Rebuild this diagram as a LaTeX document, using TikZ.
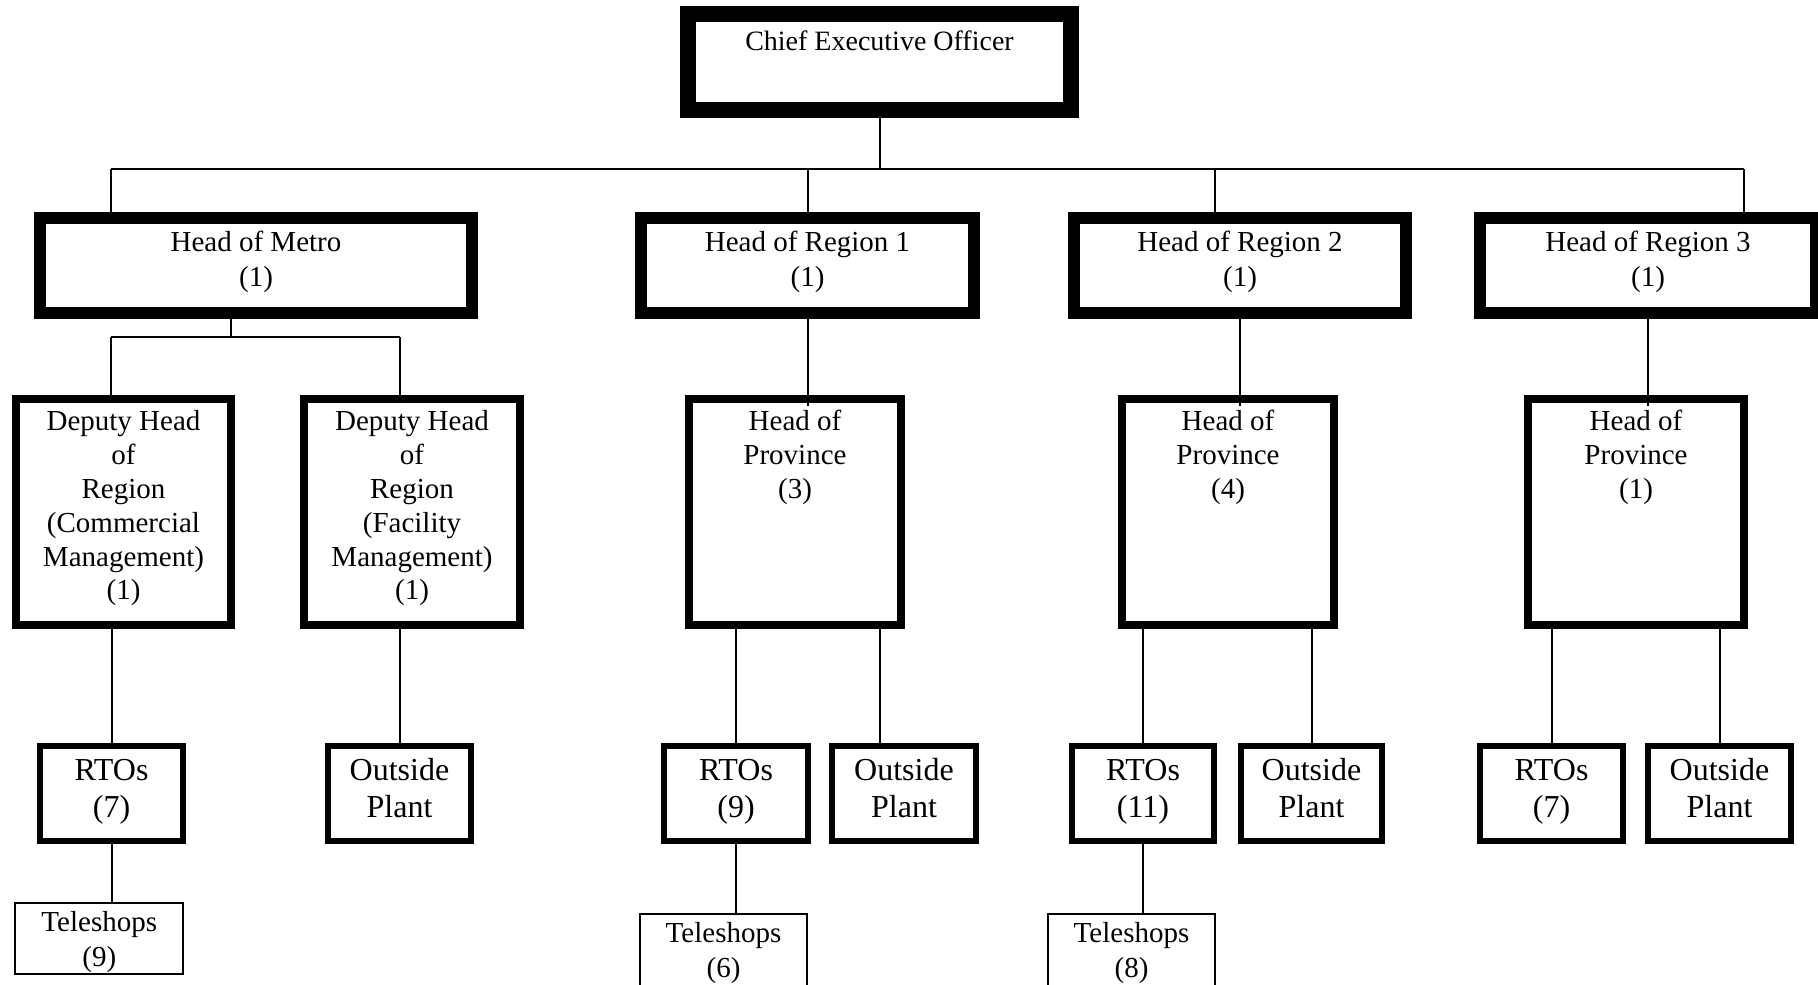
\documentclass[tikz,border=0pt]{standalone}
\usepackage{fontspec}
\setmainfont{Liberation Serif}
\begin{document}
\begin{tikzpicture}[x=1pt,y=-1pt,
  bx/.style={draw=black, rectangle, inner sep=0pt, outer sep=0pt, line join=miter},
  bsixteen/.style={bx, line width=16pt},
  btwelve/.style={bx, line width=12pt},
  beight/.style={bx, line width=8pt},
  bsix/.style={bx, line width=6pt},
  bthin/.style={bx, line width=1.9pt},
  lbl/.style={inner sep=0pt, outer sep=0pt, align=center, anchor=north},
  fceo/.style={font=\fontsize{28}{34}\selectfont},
  fhead/.style={font=\fontsize{29}{34.5}\selectfont},
  fmid/.style={font=\fontsize{29}{33.8}\selectfont},
  fbig/.style={font=\fontsize{32}{37}\selectfont},
  ftel/.style={font=\fontsize{29}{34.5}\selectfont},
  conn/.style={line width=2pt, line cap=butt}]
\useasboundingbox (0,0) rectangle (1818,985);

% ---- boxes ----
\node[bsixteen, minimum width=383pt, minimum height=96pt] (ceo) at (879.5,62) {};
\node[btwelve, minimum width=432pt, minimum height=95pt] (metro) at (256,265.5) {};
\node[btwelve, minimum width=333pt, minimum height=95pt] (hor1) at (807.5,265.5) {};
\node[btwelve, minimum width=332pt, minimum height=95pt] (hor2) at (1240,265.5) {};
\node[btwelve, minimum width=336pt, minimum height=95pt] (hor3) at (1648,265.5) {};

\node[beight, minimum width=215pt, minimum height=226pt] (dep1) at (123.5,512) {};
\node[beight, minimum width=216pt, minimum height=226pt] (dep2) at (412,512) {};
\node[beight, minimum width=212pt, minimum height=226pt] (hop1) at (795,512) {};
\node[beight, minimum width=212pt, minimum height=226pt] (hop2) at (1228,512) {};
\node[beight, minimum width=216pt, minimum height=226pt] (hop3) at (1636,512) {};

\node[bsix, minimum width=143pt, minimum height=95pt] (rto1) at (111.5,793.5) {};
\node[bsix, minimum width=143pt, minimum height=95pt] (op1) at (399.5,793.5) {};
\node[bsix, minimum width=144pt, minimum height=95pt] (rto2) at (736,793.5) {};
\node[bsix, minimum width=144pt, minimum height=95pt] (op2) at (904,793.5) {};
\node[bsix, minimum width=142pt, minimum height=95pt] (rto3) at (1143,793.5) {};
\node[bsix, minimum width=141pt, minimum height=95pt] (op3) at (1311.5,793.5) {};
\node[bsix, minimum width=143pt, minimum height=95pt] (rto4) at (1551.5,793.5) {};
\node[bsix, minimum width=143pt, minimum height=95pt] (op4) at (1719.5,793.5) {};

\node[bthin, minimum width=167.7pt, minimum height=71.2pt] (tele1) at (99.25,938.5) {};
\node[bthin, minimum width=167pt, minimum height=75pt] (tele2) at (723.5,951.5) {};
\node[bthin, minimum width=167pt, minimum height=75pt] (tele3) at (1131.5,951.5) {};

% ---- texts ----
\node[lbl, fceo] (ceot) at (879.5,27) {\strut Chief Executive Officer};
\node[lbl, fhead] (metrot) at (256,227.4) {\strut Head of Metro\\(1)};
\node[lbl, fhead] (hor1t) at (807.5,227.4) {\strut Head of Region 1\\(1)};
\node[lbl, fhead] (hor2t) at (1240,227.4) {\strut Head of Region 2\\(1)};
\node[lbl, fhead] (hor3t) at (1648,227.4) {\strut Head of Region 3\\(1)};

\node[lbl, fmid] (dep1t) at (123.5,407.2) {\strut Deputy Head\\of\\Region\\(Commercial\\Management)\\(1)};
\node[lbl, fmid] (dep2t) at (412,407.2) {\strut Deputy Head\\of\\Region\\(Facility\\Management)\\(1)};
\node[lbl, fmid] (hop1t) at (795,407.2) {\strut Head of\\Province\\(3)};
\node[lbl, fmid] (hop2t) at (1228,407.2) {\strut Head of\\Province\\(4)};
\node[lbl, fmid] (hop3t) at (1636,407.2) {\strut Head of\\Province\\(1)};

\node[lbl, fbig] (rto1t) at (111.5,754.1) {\strut RTOs\\(7)};
\node[lbl, fbig] (op1t) at (399.5,754.1) {\strut Outside\\Plant};
\node[lbl, fbig] (rto2t) at (736,754.1) {\strut RTOs\\(9)};
\node[lbl, fbig] (op2t) at (904,754.1) {\strut Outside\\Plant};
\node[lbl, fbig] (rto3t) at (1143,754.1) {\strut RTOs\\(11)};
\node[lbl, fbig] (op3t) at (1311.5,754.1) {\strut Outside\\Plant};
\node[lbl, fbig] (rto4t) at (1551.5,754.1) {\strut RTOs\\(7)};
\node[lbl, fbig] (op4t) at (1719.5,754.1) {\strut Outside\\Plant};

\node[lbl, ftel] (tele1t) at (99.25,907.5) {\strut Teleshops\\(9)};
\node[lbl, ftel] (tele2t) at (723.5,918.5) {\strut Teleshops\\(6)};
\node[lbl, ftel] (tele3t) at (1131.5,918.5) {\strut Teleshops\\(8)};

% ---- connectors ----
\coordinate (busL) at (111,169);
\coordinate (busR) at (1744,169);
\coordinate (j2) at (1215,169);
\draw[conn] (ceo.south) -- (ceo.south |- busL);
\draw[conn] (busL) -- (busR);
\draw[conn] (busL) -- (busL |- metro.north);
\draw[conn] (hor1.north |- busL) -- (hor1.north);
\draw[conn] (j2) -- (j2 |- hor2.north);
\draw[conn] (busR) -- (busR |- hor3.north);

\coordinate (mj) at (231,337);
\coordinate (mbL) at (111,337);
\coordinate (mbR) at (400,337);
\draw[conn] (mj |- metro.south) -- (mj);
\draw[conn] (mbL) -- (mbR);
\draw[conn] (mbL) -- (mbL |- dep1.north);
\draw[conn] (mbR) -- (mbR |- dep2.north);
\draw[conn] (rto1.north |- dep1.south) -- (rto1.north);
\draw[conn] (op1.north |- dep2.south) -- (op1.north);
\draw[conn] (rto1.south) -- (rto1.south |- tele1.north);

\coordinate (p1) at (808,406);
\coordinate (o2) at (880,700);
\draw[conn] (p1 |- hor1.south) -- (p1);
\draw[conn] (rto2.north |- hop1.south) -- (rto2.north);
\draw[conn] (o2 |- hop1.south) -- (o2 |- op2.north);
\draw[conn] (rto2.south) -- (rto2.south |- tele2.north);

\coordinate (p2) at (1240,406);
\draw[conn] (p2 |- hor2.south) -- (p2);
\draw[conn] (rto3.north |- hop2.south) -- (rto3.north);
\draw[conn] (op3.north |- hop2.south) -- (op3.north);
\draw[conn] (rto3.south) -- (rto3.south |- tele3.north);

\coordinate (p3) at (1648,406);
\draw[conn] (hor3.south) -- (hor3.south |- p3);
\draw[conn] (rto4.north |- hop3.south) -- (rto4.north);
\draw[conn] (op4.north |- hop3.south) -- (op4.north);
\end{tikzpicture}
\end{document}
